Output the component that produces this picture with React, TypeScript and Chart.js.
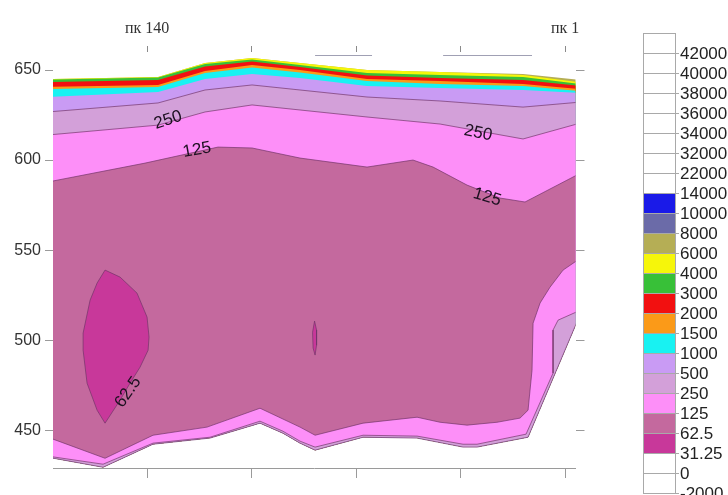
import React, { useEffect, useRef } from 'react';
import { Chart, registerables } from 'chart.js';

Chart.register(...registerables);

// ---- axes ----
const X_TICKS = [100, 200, 300, 400, 500];
const TOP_TICK_LABELS = ['пк 140', '', '', '', 'пк 1'];
const Y_TICKS = [450, 500, 550, 600, 650];
// surviving pieces of the upper frame line (distance ranges)
const TOP_RULE_FROM = [260.8, 383.3];
const TOP_RULE_TO = [315.3, 468.4];

// ---- upper contours, sampled at common distances along the profile ----
const UPPER_X = [5, 110.5, 155.5, 200.5, 246.4, 310.5, 380.4, 459.8, 515];
const SURFACE_Y = [645.0, 646.1, 653.9, 656.7, 653.9, 650.0, 648.9, 647.8, 644.4];
const C6000_Y = [645.0, 646.1, 653.9, 656.7, 653.9, 650.0, 648.9, 647.2, 643.1];
const C4000_Y = [644.7, 645.8, 653.3, 655.8, 652.8, 648.3, 647.2, 646.1, 642.2];
const C3000_Y = [643.3, 644.4, 651.9, 654.7, 651.7, 646.9, 645.6, 644.4, 641.1];
const C2000_Y = [640.6, 641.7, 649.4, 652.8, 650.0, 645.0, 643.9, 642.2, 639.4];
const C1500_Y = [639.4, 640.6, 648.3, 651.4, 648.6, 643.9, 642.2, 641.1, 638.3];
const C1000_Y = [635.0, 637.8, 645.0, 647.8, 645.6, 641.1, 640.0, 638.9, 637.2];
const C500_Y = [626.7, 631.7, 638.9, 641.7, 638.9, 635.0, 632.8, 629.4, 632.2];
const C250_Y = [613.9, 619.4, 626.7, 630.6, 627.8, 623.9, 620.0, 611.7, 620.6];

// ---- lower edge of the section (right flank, then base, right to left) ----
const OUTER_X = [515, 464.6, 415.8, 402.4, 358.4, 306.7, 260.8, 246.4, 230.1, 208.1, 160.3, 105.7, 57.9, 5];
const OUTER_Y = [515.0, 446.1, 440.6, 440.6, 445.6, 446.1, 438.9, 442.8, 448.3, 453.9, 445.6, 442.2, 429.4, 435.0];

// ---- 250 contour along the right flank and the base ----
const C250_BASE_X = [515, 493.3, 488.5, 488.5, 462.7, 415.8, 402.4, 358.4, 306.7, 260.8, 246.4, 230.1, 208.1, 160.3, 105.7, 57.9, 5];
const C250_BASE_Y = [516.7, 511.1, 505.6, 481.7, 447.8, 442.2, 442.2, 446.7, 447.2, 440.6, 443.9, 449.4, 455.0, 446.1, 442.8, 431.1, 435.6];

// ---- 125 contour: upper branch, then right flank and base ----
const C125_X = [5, 98.1, 167.9, 200.5, 246.4, 310.5, 354.5, 373.7, 406.2, 437.8, 461.7, 515];
const C125_Y = [587.8, 598.3, 607.2, 606.7, 601.1, 596.1, 600.0, 596.1, 586.1, 578.9, 576.7, 592.8];
const C125_BASE_X = [515, 498.1, 485.6, 476.1, 469.4, 468.4, 464.6, 456.9, 434.9, 406.2, 380.4, 358.4, 306.7, 260.8, 246.4, 208.1, 157.4, 105.7, 59.8, 5];
const C125_BASE_Y = [545.6, 538.9, 529.4, 520.6, 509.4, 483.3, 461.1, 456.7, 454.4, 452.8, 454.4, 457.2, 453.9, 447.2, 451.7, 462.2, 451.7, 447.2, 434.4, 446.1];

// ---- 62.5 closed contours ----
const C62_A_X = [59.8, 74.2, 90.4, 100.0, 101.9, 101.0, 93.3, 83.7, 74.2, 59.8, 52.2, 42.6, 38.8, 38.8, 45.5, 52.2, 59.8];
const C62_A_Y = [538.9, 535.0, 526.1, 512.8, 501.7, 494.4, 485.0, 476.1, 466.7, 453.9, 461.1, 476.1, 494.4, 503.9, 522.2, 531.7, 538.9];
const C62_B_X = [260.3, 262.2, 262.2, 260.8, 258.9, 258.4, 260.3];
const C62_B_Y = [510.6, 505.6, 497.2, 491.7, 495.6, 504.4, 510.6];

// ---- contour labels ----
const CLABEL_TEXT = ['250', '125', '250', '125', '62.5'];
const CLABEL_X = [120.1, 147.8, 416.7, 425.4, 81.8];
const CLABEL_Y = [622.2, 605.6, 615.0, 579.4, 471.1];
const CLABEL_ANGLE = [-18, -10, 12, 17, -55];

// ---- colour scale ----
const WHITE = '#ffffff';
const BLUE = '#1a1ae8';
const SLATE = '#6b6ba8';
const OLIVE = '#b5ae55';
const YELLOW = '#f6f60a';
const GREEN = '#38c038';
const RED = '#f21010';
const ORANGE = '#fb9a18';
const CYAN = '#18f2f2';
const LAVENDER = '#c99bf4';
const LILAC = '#d3a0d9';
const PINK = '#fd8ff8';
const MAUVE = '#c4699e';
const MAGENTA = '#c8389a';
const CONTOUR_LINE = 'rgba(112,52,104,0.85)';

const LEGEND_LABELS = ['42000', '40000', '38000', '36000', '34000', '32000', '22000', '14000', '10000', '8000', '6000', '4000', '3000', '2000', '1500', '1000', '500', '250', '125', '62.5', '31.25', '0', '-2000'];
const LEGEND_COLORS = [WHITE, WHITE, WHITE, WHITE, WHITE, WHITE, WHITE, WHITE, BLUE, SLATE, OLIVE, YELLOW, GREEN, RED, ORANGE, CYAN, LAVENDER, LILAC, PINK, MAUVE, MAGENTA, WHITE, WHITE];

const SANS = '"Liberation Sans", Arial, sans-serif';
const SERIF = '"Liberation Serif", "Times New Roman", serif';

type P = { x: number; y: number };
const pts = (xs: number[], ys: number[]): P[] => xs.map((x, i) => ({ x, y: ys[i] }));
const closed = (p: P[]): P[] => [...p, p[0]];
const upperBand = (ys: number[]) => closed([...pts(UPPER_X, ys), ...pts(OUTER_X, OUTER_Y)]);

const overlayPlugin = {
  id: 'sectionOverlay',
  afterDraw(chart: any) {
    const { ctx, chartArea, scales } = chart;
    const sx = scales.x;
    const sy = scales.y;

    // pieces of the upper frame line
    ctx.save();
    ctx.strokeStyle = '#a0a0b4';
    ctx.lineWidth = 1;
    ctx.beginPath();
    TOP_RULE_FROM.forEach((from, i) => {
      const yy = Math.round(chartArea.top + 3) + 0.5;
      ctx.moveTo(sx.getPixelForValue(from), yy);
      ctx.lineTo(sx.getPixelForValue(TOP_RULE_TO[i]), yy);
    });
    ctx.stroke();
    ctx.restore();

    // contour labels
    ctx.save();
    ctx.font = `17px ${SANS}`;
    ctx.fillStyle = '#1c1020';
    ctx.textAlign = 'center';
    ctx.textBaseline = 'middle';
    CLABEL_TEXT.forEach((t, i) => {
      ctx.save();
      ctx.translate(sx.getPixelForValue(CLABEL_X[i]), sy.getPixelForValue(CLABEL_Y[i]));
      ctx.rotate((CLABEL_ANGLE[i] * Math.PI) / 180);
      ctx.fillText(t, 0, 0);
      ctx.restore();
    });
    ctx.restore();

    // colour bar
    const left = chartArea.right + 67.5;
    const top = 33;
    const w = 32;
    const h = 20;
    const n = LEGEND_COLORS.length;
    ctx.save();
    LEGEND_COLORS.forEach((c, i) => {
      ctx.fillStyle = c;
      ctx.fillRect(left, top + i * h, w, h);
    });
    ctx.strokeStyle = '#a9a9a9';
    ctx.lineWidth = 1;
    ctx.strokeRect(left + 0.5, top + 0.5, w, h * n);
    ctx.beginPath();
    for (let i = 1; i <= n; i++) {
      const y = Math.round(top + i * h) + 0.5;
      ctx.moveTo(left, y);
      ctx.lineTo(left + w + 4, y);
    }
    ctx.stroke();
    ctx.font = `17px ${SANS}`;
    ctx.fillStyle = '#222';
    ctx.textAlign = 'left';
    ctx.textBaseline = 'middle';
    LEGEND_LABELS.forEach((t, i) => {
      ctx.fillText(t, left + w + 5, top + (i + 1) * h + 1);
    });
    ctx.restore();
  },
};

export default function App() {
  const ref = useRef<HTMLCanvasElement | null>(null);

  useEffect(() => {
    if (!ref.current) return;

    const layers: { data: P[]; color: string; outline: boolean }[] = [
      { data: upperBand(SURFACE_Y), color: OLIVE, outline: false },
      { data: upperBand(C6000_Y), color: YELLOW, outline: false },
      { data: upperBand(C4000_Y), color: GREEN, outline: false },
      { data: upperBand(C3000_Y), color: RED, outline: false },
      { data: upperBand(C2000_Y), color: ORANGE, outline: false },
      { data: upperBand(C1500_Y), color: CYAN, outline: false },
      { data: upperBand(C1000_Y), color: LAVENDER, outline: false },
      { data: upperBand(C500_Y), color: LILAC, outline: true },
      { data: closed([...pts(UPPER_X, C250_Y), ...pts(C250_BASE_X, C250_BASE_Y)]), color: PINK, outline: true },
      { data: closed([...pts(C125_X, C125_Y), ...pts(C125_BASE_X, C125_BASE_Y)]), color: MAUVE, outline: true },
      { data: pts(C62_A_X, C62_A_Y), color: MAGENTA, outline: true },
      { data: pts(C62_B_X, C62_B_Y), color: MAGENTA, outline: true },
    ];
    const n = layers.length;

    const fixedTicks = (vals: number[]) => (s: any) => {
      s.ticks = vals.map((v) => ({ value: v }));
    };

    const chart = new Chart(ref.current, {
      type: 'line',
      data: {
        datasets: layers.map((l, i) => ({
          data: l.data,
          backgroundColor: l.color,
          borderColor: l.outline ? CONTOUR_LINE : 'rgba(0,0,0,0)',
          borderWidth: l.outline ? 0.8 : 0,
          fill: 'shape',
          pointRadius: 0,
          pointHoverRadius: 0,
          tension: 0,
          clip: 0,
          order: n - i,
        })),
      },
      options: {
        responsive: false,
        animation: false,
        devicePixelRatio: 1,
        events: [],
        layout: { padding: 0 },
        plugins: { legend: { display: false }, tooltip: { enabled: false } },
        scales: {
          x: {
            type: 'linear',
            position: 'bottom',
            min: 10,
            max: 510,
            afterBuildTicks: fixedTicks(X_TICKS),
            afterFit: (s: any) => { s.height = 27; },
            border: { display: true, color: '#9a9a9a', width: 1 },
            grid: { display: true, drawOnChartArea: false, drawTicks: true, tickLength: 10, color: '#9a9a9a' },
            ticks: { callback: () => '', autoSkip: false, maxRotation: 0 },
          },
          xTop: {
            type: 'linear',
            position: 'top',
            min: 10,
            max: 510,
            afterBuildTicks: fixedTicks(X_TICKS),
            afterFit: (s: any) => { s.height = 52; },
            border: { display: false },
            grid: { display: true, drawOnChartArea: false, drawTicks: true, tickLength: 6, color: '#8a8a8a' },
            ticks: {
              callback: (_v: any, i: number) => TOP_TICK_LABELS[i],
              autoSkip: false,
              maxRotation: 0,
              padding: 8,
              color: '#333',
              font: { family: SERIF, size: 16 },
            },
          },
          y: {
            type: 'linear',
            position: 'left',
            min: 429,
            max: 660,
            afterBuildTicks: fixedTicks(Y_TICKS),
            afterFit: (s: any) => { s.width = 53; },
            border: { display: false },
            grid: { display: true, drawOnChartArea: false, drawTicks: true, tickLength: 8, color: '#9a9a9a' },
            ticks: { padding: 4, color: '#333', font: { family: SANS, size: 16 } },
          },
          yRight: {
            type: 'linear',
            position: 'right',
            min: 429,
            max: 660,
            afterBuildTicks: fixedTicks(Y_TICKS),
            afterFit: (s: any) => { s.width = 152.5; },
            border: { display: false },
            grid: { display: true, drawOnChartArea: false, drawTicks: true, tickLength: 9, color: '#9a9a9a' },
            ticks: { callback: () => '' },
          },
        },
      },
      plugins: [overlayPlugin],
    } as any);

    return () => chart.destroy();
  }, []);

  return (
    <div style={{ position: 'fixed', left: 0, top: 0, width: 728, height: 495, background: '#fff', overflow: 'hidden' }}>
      <canvas ref={ref} width={728} height={495} style={{ display: 'block', width: 728, height: 495 }} />
    </div>
  );
}
